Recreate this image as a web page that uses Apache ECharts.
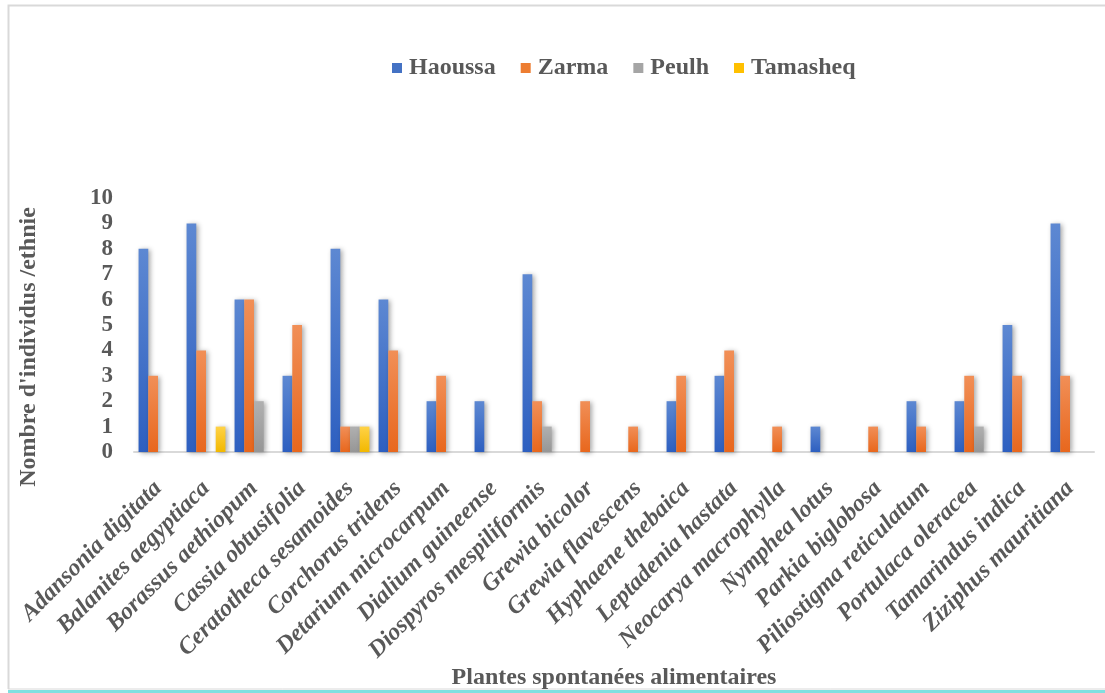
<!DOCTYPE html>
<html>
<head>
<meta charset="utf-8">
<script src="https://cdn.jsdelivr.net/npm/echarts@6/dist/echarts.min.js"></script>
<style>
  html, body { margin: 0; padding: 0; background: #ffffff; }
  #chart { width: 1105px; height: 693px; }
</style>
</head>
<body>
<div id="chart"></div>
<script>
// Plantes spontanées alimentaires citées, par ethnie
const plantes = [
  'Adansonia digitata', 'Balanites aegyptiaca', 'Borassus aethiopum', 'Cassia obtusifolia',
  'Ceratotheca sesamoides', 'Corchorus tridens', 'Detarium microcarpum', 'Dialium guineense',
  'Diospyros mespiliformis', 'Grewia bicolor', 'Grewia flavescens', 'Hyphaene thebaica',
  'Leptadenia hastata', 'Neocarya macrophylla', 'Nymphea lotus', 'Parkia biglobosa',
  'Piliostigma reticulatum', 'Portulaca oleracea', 'Tamarindus indica', 'Ziziphus mauritiana'
];
const haoussa  = [8, 9, 6, 3, 8, 6, 2, 2, 7, 0, 0, 2, 3, 0, 1, 0, 2, 2, 5, 9];
const zarma    = [3, 4, 6, 5, 1, 4, 3, 0, 2, 2, 1, 3, 4, 1, 0, 1, 1, 3, 3, 3];
const peulh    = [0, 0, 2, 0, 1, 0, 0, 0, 1, 0, 0, 0, 0, 0, 0, 0, 0, 1, 0, 0];
const tamasheq = [0, 1, 0, 0, 1, 0, 0, 0, 0, 0, 0, 0, 0, 0, 0, 0, 0, 0, 0, 0];
const yTicks = ['0', '1', '2', '3', '4', '5', '6', '7', '8', '9', '10'];

const serif = '"Liberation Serif", "Times New Roman", serif';
const textGrey = '#595959';

function grad(top, bottom) {
  return new echarts.graphic.LinearGradient(0, 0, 0, 1, [
    { offset: 0, color: top },
    { offset: 1, color: bottom }
  ]);
}

function barSeries(name, data, top, bottom) {
  return {
    name: name,
    type: 'bar',
    data: data,
    barGap: '0%',
    barCategoryGap: '19%',
    itemStyle: {
      color: grad(top, bottom),
      shadowColor: 'rgba(0,0,0,0.35)',
      shadowBlur: 5,
      shadowOffsetX: 2,
      shadowOffsetY: 1
    },
    emphasis: { disabled: true }
  };
}

const chart = echarts.init(document.getElementById('chart'), null, { renderer: 'canvas' });

chart.setOption({
  backgroundColor: '#ffffff',
  animation: false,
  color: ['#4472C4', '#ED7D31', '#A5A5A5', '#FFC000'],
  legend: {
    top: 51,
    left: 387,
    itemWidth: 10,
    itemHeight: 10,
    itemGap: 25,
    icon: 'rect',
    textStyle: { fontFamily: serif, fontWeight: 'bold', fontSize: 24, color: textGrey, padding: [0, 0, 0, 2] },
    data: [
      { name: 'Haoussa', itemStyle: { color: '#4472C4' } },
      { name: 'Zarma', itemStyle: { color: '#ED7D31' } },
      { name: 'Peulh', itemStyle: { color: '#A5A5A5' } },
      { name: 'Tamasheq', itemStyle: { color: '#FFC000' } }
    ]
  },
  grid: { left: 134, right: 11, top: 198, bottom: 241, containLabel: false },
  xAxis: {
    type: 'category',
    data: plantes,
    name: 'Plantes spontanées alimentaires',
    nameLocation: 'middle',
    nameGap: 212,
    nameTextStyle: { fontFamily: serif, fontWeight: 'bold', fontSize: 24, color: textGrey },
    axisLine: { lineStyle: { color: '#d9d9d9', width: 2 } },
    axisTick: { show: false },
    axisLabel: {
      interval: 0,
      rotate: 45,
      margin: 33,
      fontFamily: serif,
      fontWeight: 'bold',
      fontStyle: 'italic',
      fontSize: 24,
      color: textGrey
    }
  },
  yAxis: {
    type: 'value',
    min: 0,
    max: 10,
    interval: 1,
    name: "Nombre d'individus /ethnie",
    nameLocation: 'middle',
    nameGap: 93,
    nameTextStyle: {
      fontFamily: serif, fontWeight: 'bold', fontSize: 24, color: textGrey,
      padding: [0, 0, 0, -44]
    },
    axisLine: { show: false },
    axisTick: { show: false },
    splitLine: { show: false },
    axisLabel: {
      margin: 21,
      fontFamily: serif,
      fontWeight: 'bold',
      fontSize: 23,
      color: textGrey,
      formatter: function (v) { return yTicks[v]; }
    }
  },
  series: [
    barSeries('Haoussa', haoussa, '#5d88d2', '#2d5fc0'),
    barSeries('Zarma', zarma, '#f18f57', '#e8671d'),
    barSeries('Peulh', peulh, '#b0b0b0', '#969696'),
    barSeries('Tamasheq', tamasheq, '#ffd246', '#f2b800')
  ],
  graphic: [
    {
      type: 'polyline',
      silent: true,
      shape: { points: [[8.5, 689], [8.5, 5.5], [1105, 5.5]] },
      style: { stroke: '#d9d9d9', lineWidth: 2, fill: null }
    },
    {
      type: 'line',
      silent: true,
      shape: { x1: 8, y1: 689, x2: 1105, y2: 689 },
      style: { stroke: '#d9d9d9', lineWidth: 1 }
    },
    {
      type: 'line',
      silent: true,
      shape: { x1: 8, y1: 691.5, x2: 1105, y2: 691.5 },
      style: { stroke: '#7fe0e0', lineWidth: 3 }
    }
  ]
});
</script>
</body>
</html>
